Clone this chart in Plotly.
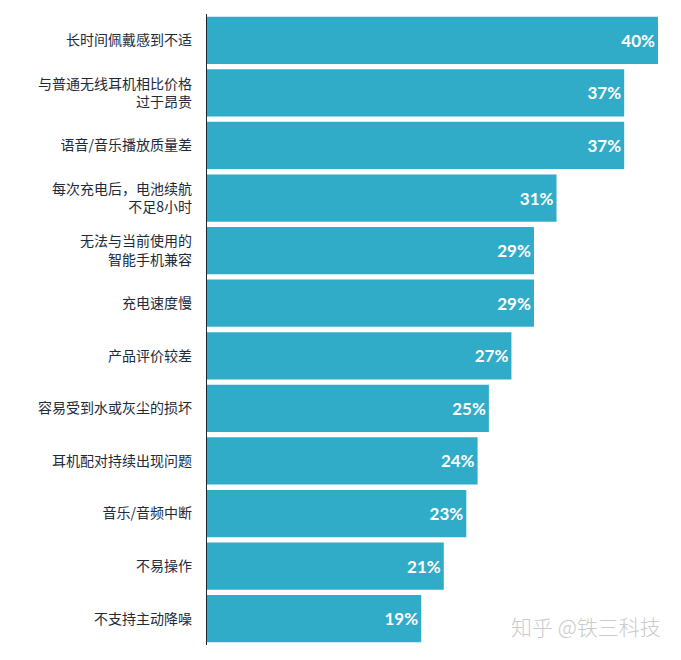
import plotly.graph_objects as go

categories = [
    "长时间佩戴感到不适",
    "与普通无线耳机相比价格<br>过于昂贵",
    "语音/音乐播放质量差",
    "每次充电后，电池续航<br>不足8小时",
    "无法与当前使用的<br>智能手机兼容",
    "充电速度慢",
    "产品评价较差",
    "容易受到水或灰尘的损坏",
    "耳机配对持续出现问题",
    "音乐/音频中断",
    "不易操作",
    "不支持主动降噪",
]
values = [40, 37, 37, 31, 29, 29, 27, 25, 24, 23, 21, 19]
value_labels = [f"{v}%" for v in values]

fig = go.Figure(
    go.Bar(
        x=values,
        y=categories,
        orientation="h",
        marker=dict(color="#31ACC8", line=dict(width=0)),
        text=value_labels,
        textposition="inside",
        insidetextanchor="end",
        textfont=dict(family="Lato", size=17, color="white", weight="bold"),
        textangle=0,
    )
)

fig.update_layout(
    width=673,
    height=652,
    margin=dict(l=199, r=23, t=6, b=15),
    paper_bgcolor="white",
    plot_bgcolor="white",
    bargap=0.1,
    showlegend=False,
    xaxis=dict(range=[0, 40], visible=False, fixedrange=True),
    yaxis=dict(
        autorange="reversed",
        showline=True,
        linecolor="#1c2633",
        linewidth=1.2,
        ticks="",
        ticklabelstandoff=11,
        tickfont=dict(family="Noto Sans CJK SC", size=14, color="#1c2a3a"),
        showgrid=False,
    ),
    annotations=[
        dict(
            text="知乎 @铁三科技",
            xref="paper", yref="paper",
            x=1.0, y=0.0,
            xanchor="right", yanchor="bottom",
            xshift=5, yshift=2,
            showarrow=False,
            font=dict(family="Noto Sans CJK SC", size=21, color="#cacaca", weight=300),
        )
    ],
)

fig.write_html("out.html")
